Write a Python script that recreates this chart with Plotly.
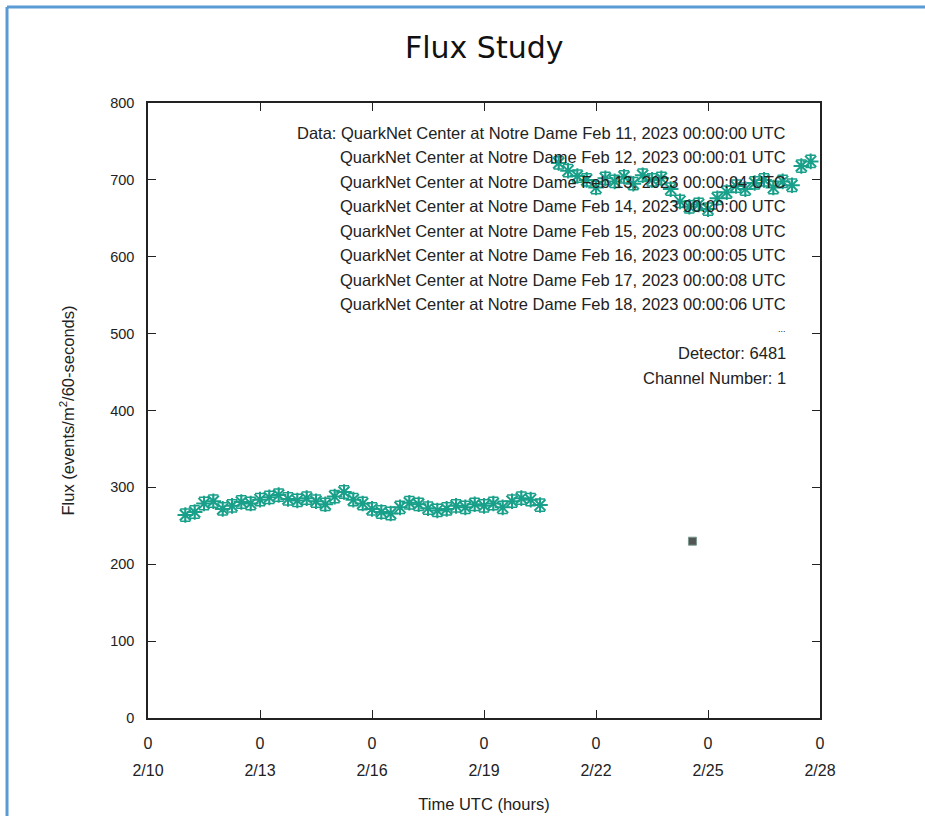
import plotly.graph_objects as go

# ---- data ----
s1_time = [
    "2023-02-11 00:00", "2023-02-11 06:00", "2023-02-11 12:00", "2023-02-11 18:00",
    "2023-02-12 00:00", "2023-02-12 06:00", "2023-02-12 12:00", "2023-02-12 18:00",
    "2023-02-13 00:00", "2023-02-13 06:00", "2023-02-13 12:00", "2023-02-13 18:00",
    "2023-02-14 00:00", "2023-02-14 06:00", "2023-02-14 12:00", "2023-02-14 18:00",
    "2023-02-15 00:00", "2023-02-15 06:00", "2023-02-15 12:00", "2023-02-15 18:00",
    "2023-02-16 00:00", "2023-02-16 06:00", "2023-02-16 12:00", "2023-02-16 18:00",
    "2023-02-17 00:00", "2023-02-17 06:00", "2023-02-17 12:00", "2023-02-17 18:00",
    "2023-02-18 00:00", "2023-02-18 06:00", "2023-02-18 12:00", "2023-02-18 18:00",
    "2023-02-19 00:00", "2023-02-19 06:00", "2023-02-19 12:00", "2023-02-19 18:00",
    "2023-02-20 00:00", "2023-02-20 06:00", "2023-02-20 12:00",
]
s1_flux = [
    264, 268, 279, 282, 272, 276, 281, 279,
    284, 287, 290, 285, 283, 286, 282, 278,
    288, 294, 284, 279, 272, 268, 266, 274,
    280, 278, 273, 270, 272, 276, 274, 278,
    276, 279, 274, 282, 286, 284, 277,
]
s2_time = [
    "2023-02-21 00:00", "2023-02-21 06:00", "2023-02-21 12:00", "2023-02-21 18:00",
    "2023-02-22 00:00", "2023-02-22 06:00", "2023-02-22 12:00", "2023-02-22 18:00",
    "2023-02-23 00:00", "2023-02-23 06:00", "2023-02-23 12:00", "2023-02-23 18:00",
    "2023-02-24 00:00", "2023-02-24 06:00", "2023-02-24 12:00", "2023-02-24 18:00",
    "2023-02-25 00:00", "2023-02-25 06:00", "2023-02-25 12:00", "2023-02-25 18:00",
    "2023-02-26 00:00", "2023-02-26 06:00", "2023-02-26 12:00", "2023-02-26 18:00",
    "2023-02-27 00:00", "2023-02-27 06:00", "2023-02-27 12:00", "2023-02-27 18:00",
]
s2_flux = [
    722, 712, 705, 700, 690, 702, 698, 704,
    695, 706, 700, 702, 688, 672, 665, 668,
    662, 676, 684, 692, 688, 696, 700, 690,
    698, 693, 718, 724,
]
s_err = 8
odd_time = ["2023-02-24 14:00"]
odd_flux = [230]

tick_dates = ["2023-02-10", "2023-02-13", "2023-02-16", "2023-02-19",
              "2023-02-22", "2023-02-25", "2023-02-28"]
tick_hours = ["0", "0", "0", "0", "0", "0", "0"]
tick_days = ["2/10", "2/13", "2/16", "2/19", "2/22", "2/25", "2/28"]
y_ticks = [0, 100, 200, 300, 400, 500, 600, 700, 800]

info_lines = [
    "Data: QuarkNet Center at Notre Dame Feb 11, 2023 00:00:00 UTC",
    "QuarkNet Center at Notre Dame Feb 12, 2023 00:00:01 UTC",
    "QuarkNet Center at Notre Dame Feb 13, 2023 00:00:04 UTC",
    "QuarkNet Center at Notre Dame Feb 14, 2023 00:00:00 UTC",
    "QuarkNet Center at Notre Dame Feb 15, 2023 00:00:08 UTC",
    "QuarkNet Center at Notre Dame Feb 16, 2023 00:00:05 UTC",
    "QuarkNet Center at Notre Dame Feb 17, 2023 00:00:08 UTC",
    "QuarkNet Center at Notre Dame Feb 18, 2023 00:00:06 UTC",
    "...",
    "Detector: 6481",
    "Channel Number: 1",
]

TEAL = "#18a08a"
FONT = "Liberation Sans, Arial, sans-serif"

fig = go.Figure()
for t, f in [(s1_time, s1_flux), (s2_time, s2_flux)]:
    fig.add_trace(go.Scatter(
        x=t, y=f, mode="markers",
        marker=dict(symbol="asterisk-open", size=13, color=TEAL,
                    line=dict(color=TEAL, width=2)),
        error_y=dict(type="constant", value=s_err, color=TEAL,
                     thickness=1.5, width=5),
        showlegend=False,
    ))
fig.add_trace(go.Scatter(
    x=odd_time, y=odd_flux, mode="markers",
    marker=dict(symbol="square", size=8, color="#555555",
                line=dict(color="#7a9a90", width=1)),
    showlegend=False,
))
# invisible trace on second x-axis so the date labels are drawn
fig.add_trace(go.Scatter(x=[tick_dates[0]], y=[0], xaxis="x2", mode="markers",
                         marker=dict(opacity=0), showlegend=False,
                         hoverinfo="skip"))

# info text (right aligned inside plot)
step = 0.0399
for i, line in enumerate(info_lines):
    y = 0.952 - i * step
    fig.add_annotation(
        x=0.953, y=y, xref="paper", yref="paper", text=line,
        showarrow=False, xanchor="right", yanchor="middle",
        font=dict(family=FONT, size=16.5 if line != "..." else 9,
                  color="#222222"),
    )

# blue frame of the screenshot
fig.add_shape(type="line", xref="paper", yref="paper",
              x0=-0.2098, x1=1.2, y0=1.1561, y1=1.1561,
              line=dict(color="#5b9bd5", width=3))
fig.add_shape(type="line", xref="paper", yref="paper",
              x0=-0.2098, x1=-0.2098, y0=1.1561, y1=-0.2,
              line=dict(color="#5b9bd5", width=3))

axis_common = dict(showgrid=False, zeroline=False, automargin=False)
fig.update_layout(
    width=925, height=816,
    margin=dict(l=148, r=105, t=103, b=98),
    paper_bgcolor="white", plot_bgcolor="white",
    title=dict(text="Flux Study", x=0.5235, xanchor="center", y=0.942,
               yanchor="middle",
               font=dict(family="DejaVu Sans", size=30, color="#111111")),
    font=dict(family=FONT, size=13, color="#222222"),
    xaxis=dict(
        type="date", range=["2023-02-10", "2023-02-28"],
        tickmode="array", tickvals=tick_dates, ticktext=tick_hours,
        ticks="inside", ticklen=8, tickcolor="#222222",
        showline=True, linecolor="#222222", linewidth=1.5, mirror="ticks",
        tickfont=dict(family=FONT, size=16), ticklabelstandoff=10,
        **axis_common,
    ),
    xaxis2=dict(
        type="date", range=["2023-02-10", "2023-02-28"], overlaying="x",
        side="bottom", anchor="y", matches="x",
        tickmode="array", tickvals=tick_dates, ticktext=tick_days,
        ticks="", showline=False, ticklabelstandoff=41,
        tickfont=dict(family=FONT, size=16),
        title=dict(text="Time UTC (hours)", standoff=20,
                   font=dict(family=FONT, size=16.5)),
        **axis_common,
    ),
    yaxis=dict(
        range=[0, 800], tickmode="array", tickvals=y_ticks,
        ticks="inside", ticklen=8, tickcolor="#222222",
        showline=True, linecolor="#222222", linewidth=1.5, mirror="ticks",
        tickfont=dict(family=FONT, size=14.5), ticklabelstandoff=9,
        title=dict(text="Flux (events/m<sup>2</sup>/60-seconds)", standoff=31,
                   font=dict(family=FONT, size=16.5)),
        **axis_common,
    ),
)

fig.write_html("out.html")
